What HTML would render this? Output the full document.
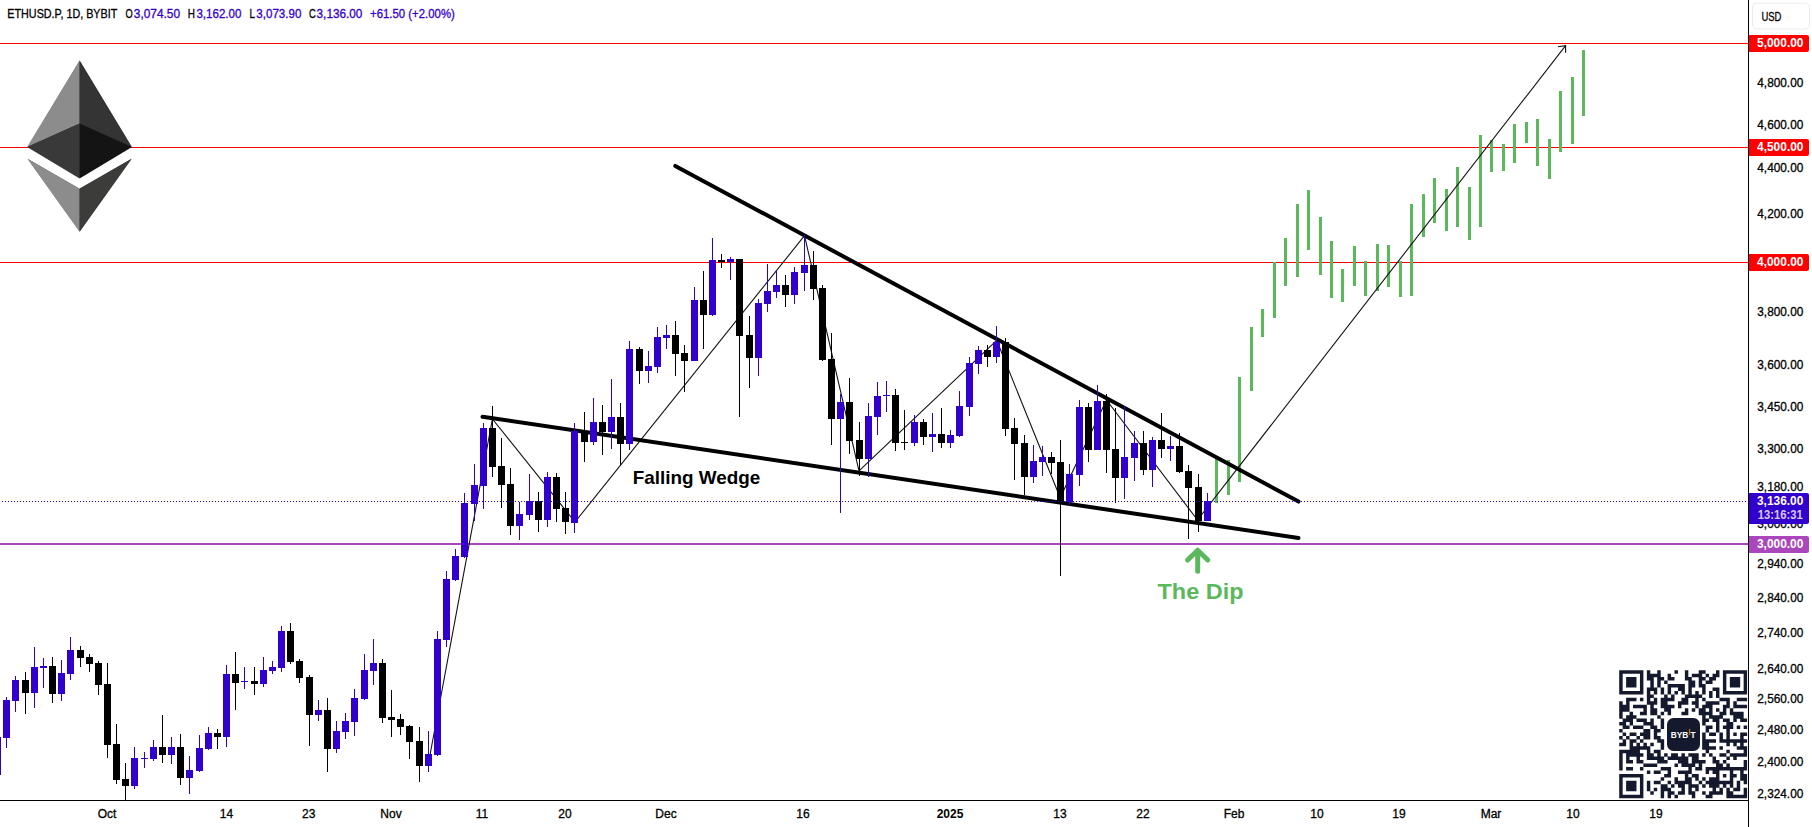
<!DOCTYPE html>
<html lang="en"><head><meta charset="utf-8"><title>ETHUSD.P 1D BYBIT - Falling Wedge</title>
<style>html,body{margin:0;padding:0;background:#fff;overflow:hidden}svg{display:block}text{font-family:"Liberation Sans",sans-serif}</style></head><body>
<svg width="1812" height="827" viewBox="0 0 1812 827">
<rect width="1812" height="827" fill="#fff"/>
<g shape-rendering="crispEdges">
<rect x="0" y="43" width="1748" height="1" fill="#ff0000"/>
<rect x="0" y="147" width="1748" height="1" fill="#ff0000"/>
<rect x="0" y="262" width="1748" height="1" fill="#ff0000"/>
<rect x="0" y="543" width="1748" height="2" fill="#ab47bc"/>
</g>
<g fill="#5cb85c" shape-rendering="crispEdges">
<rect x="1215" y="457" width="3" height="46"/>
<rect x="1227" y="460" width="3" height="35"/>
<rect x="1238" y="377" width="3" height="105"/>
<rect x="1250" y="327" width="3" height="64"/>
<rect x="1261" y="309" width="3" height="28"/>
<rect x="1273" y="262" width="3" height="56"/>
<rect x="1284" y="238" width="3" height="48"/>
<rect x="1296" y="204" width="3" height="73"/>
<rect x="1307" y="190" width="3" height="60"/>
<rect x="1319" y="217" width="3" height="58"/>
<rect x="1330" y="241" width="3" height="57"/>
<rect x="1341" y="269" width="3" height="33"/>
<rect x="1353" y="246" width="3" height="40"/>
<rect x="1364" y="261" width="3" height="35"/>
<rect x="1376" y="244" width="3" height="47"/>
<rect x="1387" y="245" width="3" height="42"/>
<rect x="1399" y="261" width="3" height="36"/>
<rect x="1410" y="204" width="3" height="92"/>
<rect x="1422" y="194" width="3" height="43"/>
<rect x="1433" y="178" width="3" height="45"/>
<rect x="1445" y="189" width="3" height="42"/>
<rect x="1456" y="167" width="3" height="60"/>
<rect x="1468" y="187" width="3" height="53"/>
<rect x="1479" y="135" width="3" height="92"/>
<rect x="1490" y="140" width="3" height="32"/>
<rect x="1502" y="144" width="3" height="27"/>
<rect x="1513" y="124" width="3" height="39"/>
<rect x="1525" y="122" width="3" height="21"/>
<rect x="1536" y="119" width="3" height="47"/>
<rect x="1548" y="139" width="3" height="40"/>
<rect x="1559" y="91" width="3" height="61"/>
<rect x="1571" y="77" width="3" height="67"/>
<rect x="1582" y="50" width="3" height="66"/>
</g>
<polyline points="430,755 492.4,419 575,522 804.5,235.7 859,470.9 996.7,340.3 1060.2,497.8 1106.5,400 1197.5,520 1565.6,45.7" fill="none" stroke="#111" stroke-width="1.1" stroke-linejoin="round"/>
<polyline points="1558,46.7 1565.6,45.7 1565.6,52.7" fill="none" stroke="#111" stroke-width="1.1"/>
<line x1="675.3" y1="165.9" x2="1298.5" y2="501.6" stroke="#000" stroke-width="4" stroke-linecap="round"/>
<line x1="482.5" y1="416.7" x2="1298.5" y2="538" stroke="#000" stroke-width="4" stroke-linecap="round"/>
<text x="632.8" y="484.3" font-size="18.5" font-weight="bold" fill="#000" textLength="127.5" lengthAdjust="spacingAndGlyphs">Falling Wedge</text>
<text x="1157.5" y="599.3" font-size="21.6" font-weight="bold" fill="#5cb85c" textLength="86" lengthAdjust="spacingAndGlyphs">The Dip</text>
<path d="M1197.7 571.3V551M1187.6 560L1197.7 550.2L1207.8 560" fill="none" stroke="#5cb85c" stroke-width="5" stroke-linecap="round" stroke-linejoin="round"/>
<g shape-rendering="crispEdges">
<rect x="-3" y="737" width="1" height="38" fill="#3200cc"/><rect x="-6" y="737" width="7" height="38" fill="#3200cc"/>
<rect x="6" y="697" width="1" height="51" fill="#3200cc"/><rect x="3" y="700" width="7" height="38" fill="#3200cc"/>
<rect x="15" y="676" width="1" height="36" fill="#3200cc"/><rect x="12" y="680" width="7" height="21" fill="#3200cc"/>
<rect x="25" y="672" width="1" height="42" fill="#000"/><rect x="22" y="680" width="7" height="13" fill="#000"/>
<rect x="34" y="647" width="1" height="61" fill="#3200cc"/><rect x="31" y="667" width="7" height="26" fill="#3200cc"/>
<rect x="43" y="658" width="1" height="30" fill="#3200cc"/><rect x="40" y="666" width="7" height="2" fill="#3200cc"/>
<rect x="52" y="657" width="1" height="46" fill="#000"/><rect x="49" y="666" width="7" height="28" fill="#000"/>
<rect x="61" y="660" width="1" height="41" fill="#3200cc"/><rect x="58" y="673" width="7" height="21" fill="#3200cc"/>
<rect x="70" y="637" width="1" height="43" fill="#3200cc"/><rect x="67" y="650" width="7" height="24" fill="#3200cc"/>
<rect x="80" y="646" width="1" height="21" fill="#000"/><rect x="77" y="650" width="7" height="8" fill="#000"/>
<rect x="89" y="654" width="1" height="18" fill="#000"/><rect x="86" y="657" width="7" height="7" fill="#000"/>
<rect x="98" y="661" width="1" height="34" fill="#000"/><rect x="95" y="663" width="7" height="22" fill="#000"/>
<rect x="107" y="663" width="1" height="95" fill="#000"/><rect x="104" y="684" width="7" height="61" fill="#000"/>
<rect x="116" y="724" width="1" height="60" fill="#000"/><rect x="113" y="744" width="7" height="36" fill="#000"/>
<rect x="125" y="763" width="1" height="38" fill="#000"/><rect x="122" y="779" width="7" height="7" fill="#000"/>
<rect x="134" y="747" width="1" height="42" fill="#3200cc"/><rect x="131" y="758" width="7" height="28" fill="#3200cc"/>
<rect x="144" y="752" width="1" height="16" fill="#3200cc"/><rect x="141" y="758" width="7" height="1" fill="#3200cc"/>
<rect x="153" y="740" width="1" height="21" fill="#3200cc"/><rect x="150" y="747" width="7" height="12" fill="#3200cc"/>
<rect x="162" y="715" width="1" height="48" fill="#000"/><rect x="159" y="747" width="7" height="8" fill="#000"/>
<rect x="171" y="737" width="1" height="27" fill="#3200cc"/><rect x="168" y="747" width="7" height="8" fill="#3200cc"/>
<rect x="180" y="734" width="1" height="51" fill="#000"/><rect x="177" y="747" width="7" height="31" fill="#000"/>
<rect x="189" y="756" width="1" height="38" fill="#3200cc"/><rect x="186" y="770" width="7" height="8" fill="#3200cc"/>
<rect x="199" y="735" width="1" height="37" fill="#3200cc"/><rect x="196" y="748" width="7" height="23" fill="#3200cc"/>
<rect x="208" y="727" width="1" height="23" fill="#3200cc"/><rect x="205" y="733" width="7" height="16" fill="#3200cc"/>
<rect x="217" y="729" width="1" height="20" fill="#000"/><rect x="214" y="733" width="7" height="4" fill="#000"/>
<rect x="226" y="665" width="1" height="82" fill="#3200cc"/><rect x="223" y="674" width="7" height="63" fill="#3200cc"/>
<rect x="235" y="652" width="1" height="58" fill="#000"/><rect x="232" y="674" width="7" height="9" fill="#000"/>
<rect x="244" y="667" width="1" height="22" fill="#3200cc"/><rect x="241" y="681" width="7" height="1" fill="#3200cc"/>
<rect x="254" y="667" width="1" height="28" fill="#000"/><rect x="251" y="681" width="7" height="3" fill="#000"/>
<rect x="263" y="657" width="1" height="30" fill="#3200cc"/><rect x="260" y="670" width="7" height="14" fill="#3200cc"/>
<rect x="272" y="661" width="1" height="13" fill="#3200cc"/><rect x="269" y="667" width="7" height="4" fill="#3200cc"/>
<rect x="281" y="626" width="1" height="46" fill="#3200cc"/><rect x="278" y="631" width="7" height="37" fill="#3200cc"/>
<rect x="290" y="623" width="1" height="41" fill="#000"/><rect x="287" y="631" width="7" height="31" fill="#000"/>
<rect x="299" y="659" width="1" height="24" fill="#000"/><rect x="296" y="661" width="7" height="17" fill="#000"/>
<rect x="309" y="675" width="1" height="71" fill="#000"/><rect x="306" y="677" width="7" height="38" fill="#000"/>
<rect x="318" y="700" width="1" height="21" fill="#3200cc"/><rect x="315" y="710" width="7" height="5" fill="#3200cc"/>
<rect x="327" y="698" width="1" height="74" fill="#000"/><rect x="324" y="710" width="7" height="39" fill="#000"/>
<rect x="336" y="721" width="1" height="32" fill="#3200cc"/><rect x="333" y="731" width="7" height="18" fill="#3200cc"/>
<rect x="345" y="713" width="1" height="26" fill="#3200cc"/><rect x="342" y="721" width="7" height="11" fill="#3200cc"/>
<rect x="354" y="689" width="1" height="47" fill="#3200cc"/><rect x="351" y="698" width="7" height="24" fill="#3200cc"/>
<rect x="364" y="654" width="1" height="46" fill="#3200cc"/><rect x="361" y="670" width="7" height="29" fill="#3200cc"/>
<rect x="373" y="639" width="1" height="46" fill="#3200cc"/><rect x="370" y="663" width="7" height="8" fill="#3200cc"/>
<rect x="382" y="659" width="1" height="64" fill="#000"/><rect x="379" y="663" width="7" height="55" fill="#000"/>
<rect x="391" y="690" width="1" height="47" fill="#000"/><rect x="388" y="717" width="7" height="3" fill="#000"/>
<rect x="400" y="714" width="1" height="21" fill="#000"/><rect x="397" y="719" width="7" height="8" fill="#000"/>
<rect x="409" y="725" width="1" height="34" fill="#000"/><rect x="406" y="726" width="7" height="16" fill="#000"/>
<rect x="419" y="727" width="1" height="55" fill="#000"/><rect x="416" y="741" width="7" height="25" fill="#000"/>
<rect x="428" y="731" width="1" height="41" fill="#3200cc"/><rect x="425" y="754" width="7" height="12" fill="#3200cc"/>
<rect x="437" y="631" width="1" height="125" fill="#3200cc"/><rect x="434" y="639" width="7" height="116" fill="#3200cc"/>
<rect x="446" y="571" width="1" height="76" fill="#3200cc"/><rect x="443" y="579" width="7" height="61" fill="#3200cc"/>
<rect x="455" y="549" width="1" height="32" fill="#3200cc"/><rect x="452" y="556" width="7" height="24" fill="#3200cc"/>
<rect x="464" y="493" width="1" height="65" fill="#3200cc"/><rect x="461" y="503" width="7" height="54" fill="#3200cc"/>
<rect x="474" y="464" width="1" height="57" fill="#3200cc"/><rect x="471" y="485" width="7" height="19" fill="#3200cc"/>
<rect x="483" y="423" width="1" height="86" fill="#3200cc"/><rect x="480" y="428" width="7" height="58" fill="#3200cc"/>
<rect x="492" y="406" width="1" height="71" fill="#000"/><rect x="489" y="428" width="7" height="39" fill="#000"/>
<rect x="501" y="438" width="1" height="70" fill="#000"/><rect x="498" y="466" width="7" height="19" fill="#000"/>
<rect x="510" y="468" width="1" height="67" fill="#000"/><rect x="507" y="484" width="7" height="42" fill="#000"/>
<rect x="519" y="502" width="1" height="38" fill="#3200cc"/><rect x="516" y="514" width="7" height="12" fill="#3200cc"/>
<rect x="529" y="474" width="1" height="46" fill="#3200cc"/><rect x="526" y="501" width="7" height="14" fill="#3200cc"/>
<rect x="538" y="492" width="1" height="40" fill="#000"/><rect x="535" y="501" width="7" height="19" fill="#000"/>
<rect x="547" y="472" width="1" height="55" fill="#3200cc"/><rect x="544" y="477" width="7" height="43" fill="#3200cc"/>
<rect x="556" y="473" width="1" height="49" fill="#000"/><rect x="553" y="477" width="7" height="32" fill="#000"/>
<rect x="565" y="492" width="1" height="42" fill="#000"/><rect x="562" y="508" width="7" height="14" fill="#000"/>
<rect x="574" y="423" width="1" height="110" fill="#3200cc"/><rect x="571" y="431" width="7" height="92" fill="#3200cc"/>
<rect x="584" y="412" width="1" height="50" fill="#000"/><rect x="581" y="431" width="7" height="11" fill="#000"/>
<rect x="593" y="398" width="1" height="47" fill="#3200cc"/><rect x="590" y="422" width="7" height="20" fill="#3200cc"/>
<rect x="602" y="405" width="1" height="50" fill="#000"/><rect x="599" y="422" width="7" height="10" fill="#000"/>
<rect x="611" y="379" width="1" height="70" fill="#3200cc"/><rect x="608" y="417" width="7" height="15" fill="#3200cc"/>
<rect x="620" y="403" width="1" height="62" fill="#000"/><rect x="617" y="417" width="7" height="27" fill="#000"/>
<rect x="629" y="341" width="1" height="109" fill="#3200cc"/><rect x="626" y="349" width="7" height="95" fill="#3200cc"/>
<rect x="639" y="347" width="1" height="37" fill="#000"/><rect x="636" y="349" width="7" height="22" fill="#000"/>
<rect x="648" y="351" width="1" height="32" fill="#3200cc"/><rect x="645" y="366" width="7" height="5" fill="#3200cc"/>
<rect x="657" y="327" width="1" height="46" fill="#3200cc"/><rect x="654" y="337" width="7" height="30" fill="#3200cc"/>
<rect x="666" y="325" width="1" height="24" fill="#3200cc"/><rect x="663" y="335" width="7" height="3" fill="#3200cc"/>
<rect x="675" y="321" width="1" height="55" fill="#000"/><rect x="672" y="335" width="7" height="19" fill="#000"/>
<rect x="684" y="345" width="1" height="47" fill="#000"/><rect x="681" y="353" width="7" height="8" fill="#000"/>
<rect x="694" y="287" width="1" height="74" fill="#3200cc"/><rect x="691" y="300" width="7" height="61" fill="#3200cc"/>
<rect x="703" y="271" width="1" height="78" fill="#000"/><rect x="700" y="300" width="7" height="15" fill="#000"/>
<rect x="712" y="238" width="1" height="78" fill="#3200cc"/><rect x="709" y="260" width="7" height="55" fill="#3200cc"/>
<rect x="721" y="254" width="1" height="14" fill="#000"/><rect x="718" y="260" width="7" height="2" fill="#000"/>
<rect x="730" y="257" width="1" height="23" fill="#3200cc"/><rect x="727" y="259" width="7" height="3" fill="#3200cc"/>
<rect x="739" y="259" width="1" height="158" fill="#000"/><rect x="736" y="259" width="7" height="77" fill="#000"/>
<rect x="749" y="316" width="1" height="72" fill="#000"/><rect x="746" y="335" width="7" height="23" fill="#000"/>
<rect x="758" y="299" width="1" height="77" fill="#3200cc"/><rect x="755" y="303" width="7" height="55" fill="#3200cc"/>
<rect x="767" y="264" width="1" height="48" fill="#3200cc"/><rect x="764" y="291" width="7" height="13" fill="#3200cc"/>
<rect x="776" y="270" width="1" height="28" fill="#3200cc"/><rect x="773" y="285" width="7" height="7" fill="#3200cc"/>
<rect x="785" y="275" width="1" height="32" fill="#000"/><rect x="782" y="285" width="7" height="10" fill="#000"/>
<rect x="794" y="267" width="1" height="37" fill="#3200cc"/><rect x="791" y="272" width="7" height="23" fill="#3200cc"/>
<rect x="804" y="235" width="1" height="56" fill="#3200cc"/><rect x="801" y="265" width="7" height="8" fill="#3200cc"/>
<rect x="813" y="251" width="1" height="49" fill="#000"/><rect x="810" y="265" width="7" height="24" fill="#000"/>
<rect x="822" y="285" width="1" height="76" fill="#000"/><rect x="819" y="288" width="7" height="72" fill="#000"/>
<rect x="831" y="333" width="1" height="112" fill="#000"/><rect x="828" y="359" width="7" height="60" fill="#000"/>
<rect x="840" y="394" width="1" height="119" fill="#3200cc"/><rect x="837" y="402" width="7" height="17" fill="#3200cc"/>
<rect x="849" y="378" width="1" height="76" fill="#000"/><rect x="846" y="402" width="7" height="39" fill="#000"/>
<rect x="859" y="422" width="1" height="54" fill="#000"/><rect x="856" y="440" width="7" height="19" fill="#000"/>
<rect x="868" y="403" width="1" height="74" fill="#3200cc"/><rect x="865" y="416" width="7" height="43" fill="#3200cc"/>
<rect x="877" y="382" width="1" height="53" fill="#3200cc"/><rect x="874" y="396" width="7" height="21" fill="#3200cc"/>
<rect x="886" y="381" width="1" height="31" fill="#3200cc"/><rect x="883" y="395" width="7" height="1" fill="#3200cc"/>
<rect x="895" y="389" width="1" height="62" fill="#000"/><rect x="892" y="395" width="7" height="48" fill="#000"/>
<rect x="904" y="410" width="1" height="40" fill="#000"/><rect x="901" y="442" width="7" height="1" fill="#000"/>
<rect x="914" y="415" width="1" height="31" fill="#3200cc"/><rect x="911" y="422" width="7" height="21" fill="#3200cc"/>
<rect x="923" y="419" width="1" height="26" fill="#000"/><rect x="920" y="422" width="7" height="15" fill="#000"/>
<rect x="932" y="413" width="1" height="39" fill="#3200cc"/><rect x="929" y="434" width="7" height="3" fill="#3200cc"/>
<rect x="941" y="408" width="1" height="40" fill="#000"/><rect x="938" y="434" width="7" height="9" fill="#000"/>
<rect x="950" y="430" width="1" height="18" fill="#3200cc"/><rect x="947" y="435" width="7" height="8" fill="#3200cc"/>
<rect x="959" y="391" width="1" height="46" fill="#3200cc"/><rect x="956" y="406" width="7" height="30" fill="#3200cc"/>
<rect x="969" y="357" width="1" height="59" fill="#3200cc"/><rect x="966" y="363" width="7" height="44" fill="#3200cc"/>
<rect x="978" y="346" width="1" height="28" fill="#3200cc"/><rect x="975" y="350" width="7" height="14" fill="#3200cc"/>
<rect x="987" y="345" width="1" height="22" fill="#000"/><rect x="984" y="350" width="7" height="7" fill="#000"/>
<rect x="996" y="326" width="1" height="37" fill="#3200cc"/><rect x="993" y="342" width="7" height="15" fill="#3200cc"/>
<rect x="1005" y="338" width="1" height="98" fill="#000"/><rect x="1002" y="342" width="7" height="87" fill="#000"/>
<rect x="1014" y="418" width="1" height="62" fill="#000"/><rect x="1011" y="428" width="7" height="16" fill="#000"/>
<rect x="1024" y="435" width="1" height="60" fill="#000"/><rect x="1021" y="443" width="7" height="34" fill="#000"/>
<rect x="1033" y="445" width="1" height="38" fill="#3200cc"/><rect x="1030" y="461" width="7" height="16" fill="#3200cc"/>
<rect x="1042" y="446" width="1" height="30" fill="#3200cc"/><rect x="1039" y="457" width="7" height="5" fill="#3200cc"/>
<rect x="1051" y="452" width="1" height="22" fill="#000"/><rect x="1048" y="457" width="7" height="6" fill="#000"/>
<rect x="1060" y="440" width="1" height="136" fill="#000"/><rect x="1057" y="462" width="7" height="40" fill="#000"/>
<rect x="1069" y="464" width="1" height="41" fill="#3200cc"/><rect x="1066" y="474" width="7" height="28" fill="#3200cc"/>
<rect x="1079" y="400" width="1" height="86" fill="#3200cc"/><rect x="1076" y="407" width="7" height="68" fill="#3200cc"/>
<rect x="1088" y="403" width="1" height="59" fill="#000"/><rect x="1085" y="407" width="7" height="43" fill="#000"/>
<rect x="1097" y="385" width="1" height="65" fill="#3200cc"/><rect x="1094" y="401" width="7" height="49" fill="#3200cc"/>
<rect x="1106" y="394" width="1" height="79" fill="#000"/><rect x="1103" y="401" width="7" height="49" fill="#000"/>
<rect x="1115" y="408" width="1" height="95" fill="#000"/><rect x="1112" y="449" width="7" height="29" fill="#000"/>
<rect x="1124" y="406" width="1" height="93" fill="#3200cc"/><rect x="1121" y="457" width="7" height="21" fill="#3200cc"/>
<rect x="1134" y="431" width="1" height="50" fill="#3200cc"/><rect x="1131" y="443" width="7" height="15" fill="#3200cc"/>
<rect x="1143" y="431" width="1" height="44" fill="#000"/><rect x="1140" y="443" width="7" height="27" fill="#000"/>
<rect x="1152" y="437" width="1" height="50" fill="#3200cc"/><rect x="1149" y="440" width="7" height="30" fill="#3200cc"/>
<rect x="1161" y="413" width="1" height="45" fill="#000"/><rect x="1158" y="440" width="7" height="9" fill="#000"/>
<rect x="1170" y="436" width="1" height="25" fill="#3200cc"/><rect x="1167" y="446" width="7" height="3" fill="#3200cc"/>
<rect x="1179" y="433" width="1" height="40" fill="#000"/><rect x="1176" y="446" width="7" height="26" fill="#000"/>
<rect x="1188" y="465" width="1" height="74" fill="#000"/><rect x="1185" y="471" width="7" height="17" fill="#000"/>
<rect x="1198" y="474" width="1" height="58" fill="#000"/><rect x="1195" y="487" width="7" height="34" fill="#000"/>
<rect x="1207" y="493" width="1" height="28" fill="#3200cc"/><rect x="1204" y="501" width="7" height="20" fill="#3200cc"/>
</g>
<line x1="1.5" y1="501.5" x2="1747" y2="501.5" stroke="#3200cc" stroke-width="1" stroke-dasharray="1 2" shape-rendering="crispEdges"/>
<g>
<polygon points="79.6,61 28,146.8 79.6,178 131.2,146.8" fill="#343434"/>
<polygon points="28,159 79.6,188.9 131.2,159 79.6,231" fill="#3c3c3b"/>
<polygon points="79.6,60.3 27.1,147 79.6,123.6" fill="#8c8c8c"/>
<polygon points="79.6,60.3 132,147 79.6,123.6" fill="#343434"/>
<polygon points="27.1,147 79.6,123.6 79.6,178.5" fill="#393939"/>
<polygon points="132,147 79.6,123.6 79.6,178.5" fill="#141414"/>
<polygon points="27.1,158.5 79.6,188.6 79.6,232" fill="#8c8c8c"/>
<polygon points="132,158.5 79.6,188.6 79.6,232" fill="#3c3c3b"/>
</g>
<text x="7.3" y="17.9" font-size="12" fill="#000" stroke="#000" stroke-width="0.3" textLength="110" lengthAdjust="spacingAndGlyphs">ETHUSD.P, 1D, BYBIT</text>
<text x="125.6" y="17.9" font-size="12" fill="#000" stroke="#000" stroke-width="0.3" textLength="7.2" lengthAdjust="spacingAndGlyphs">O</text>
<text x="133.8" y="17.9" font-size="12" fill="#3200cc" stroke="#3200cc" stroke-width="0.3" textLength="46.2" lengthAdjust="spacingAndGlyphs">3,074.50</text>
<text x="187.8" y="17.9" font-size="12" fill="#000" stroke="#000" stroke-width="0.3" textLength="7.2" lengthAdjust="spacingAndGlyphs">H</text>
<text x="196.4" y="17.9" font-size="12" fill="#3200cc" stroke="#3200cc" stroke-width="0.3" textLength="45" lengthAdjust="spacingAndGlyphs">3,162.00</text>
<text x="249.6" y="17.9" font-size="12" fill="#000" stroke="#000" stroke-width="0.3" textLength="5.5" lengthAdjust="spacingAndGlyphs">L</text>
<text x="256.3" y="17.9" font-size="12" fill="#3200cc" stroke="#3200cc" stroke-width="0.3" textLength="45.1" lengthAdjust="spacingAndGlyphs">3,073.90</text>
<text x="309" y="17.9" font-size="12" fill="#000" stroke="#000" stroke-width="0.3" textLength="6.8" lengthAdjust="spacingAndGlyphs">C</text>
<text x="316.6" y="17.9" font-size="12" fill="#3200cc" stroke="#3200cc" stroke-width="0.3" textLength="45.7" lengthAdjust="spacingAndGlyphs">3,136.00</text>
<text x="370" y="17.9" font-size="12" fill="#3200cc" stroke="#3200cc" stroke-width="0.3" textLength="84.8" lengthAdjust="spacingAndGlyphs">+61.50 (+2.00%)</text>
<g shape-rendering="crispEdges"><rect x="1748" y="0" width="1" height="827" fill="#000"/><rect x="0" y="800" width="1748" height="1" fill="#000"/></g>
<rect x="1752.5" y="3.2" width="57" height="25.8" rx="4" fill="#fff" stroke="#ebebeb" stroke-width="1"/>
<text x="1761.4" y="21.1" font-size="12" fill="#000" stroke="#000" stroke-width="0.3" textLength="20" lengthAdjust="spacingAndGlyphs">USD</text>
<text x="1757.3" y="86.5" font-size="12" fill="#000" stroke="#000" stroke-width="0.3" textLength="46" lengthAdjust="spacingAndGlyphs">4,800.00</text>
<text x="1757.3" y="128.8" font-size="12" fill="#000" stroke="#000" stroke-width="0.3" textLength="46" lengthAdjust="spacingAndGlyphs">4,600.00</text>
<text x="1757.3" y="171.8" font-size="12" fill="#000" stroke="#000" stroke-width="0.3" textLength="46" lengthAdjust="spacingAndGlyphs">4,400.00</text>
<text x="1757.3" y="217.9" font-size="12" fill="#000" stroke="#000" stroke-width="0.3" textLength="46" lengthAdjust="spacingAndGlyphs">4,200.00</text>
<text x="1757.3" y="315.9" font-size="12" fill="#000" stroke="#000" stroke-width="0.3" textLength="46" lengthAdjust="spacingAndGlyphs">3,800.00</text>
<text x="1757.3" y="368.7" font-size="12" fill="#000" stroke="#000" stroke-width="0.3" textLength="46" lengthAdjust="spacingAndGlyphs">3,600.00</text>
<text x="1757.3" y="411.0" font-size="12" fill="#000" stroke="#000" stroke-width="0.3" textLength="46" lengthAdjust="spacingAndGlyphs">3,450.00</text>
<text x="1757.3" y="453.3" font-size="12" fill="#000" stroke="#000" stroke-width="0.3" textLength="46" lengthAdjust="spacingAndGlyphs">3,300.00</text>
<text x="1757.3" y="490.6" font-size="12" fill="#000" stroke="#000" stroke-width="0.3" textLength="46" lengthAdjust="spacingAndGlyphs">3,180.00</text>
<text x="1757.3" y="528.4" font-size="12" fill="#000" stroke="#000" stroke-width="0.3" textLength="46" lengthAdjust="spacingAndGlyphs">3,000.00</text>
<text x="1757.3" y="567.8" font-size="12" fill="#000" stroke="#000" stroke-width="0.3" textLength="46" lengthAdjust="spacingAndGlyphs">2,940.00</text>
<text x="1757.3" y="601.5" font-size="12" fill="#000" stroke="#000" stroke-width="0.3" textLength="46" lengthAdjust="spacingAndGlyphs">2,840.00</text>
<text x="1757.3" y="636.9" font-size="12" fill="#000" stroke="#000" stroke-width="0.3" textLength="46" lengthAdjust="spacingAndGlyphs">2,740.00</text>
<text x="1757.3" y="673.0" font-size="12" fill="#000" stroke="#000" stroke-width="0.3" textLength="46" lengthAdjust="spacingAndGlyphs">2,640.00</text>
<text x="1757.3" y="702.9" font-size="12" fill="#000" stroke="#000" stroke-width="0.3" textLength="46" lengthAdjust="spacingAndGlyphs">2,560.00</text>
<text x="1757.3" y="734.1" font-size="12" fill="#000" stroke="#000" stroke-width="0.3" textLength="46" lengthAdjust="spacingAndGlyphs">2,480.00</text>
<text x="1757.3" y="766.4" font-size="12" fill="#000" stroke="#000" stroke-width="0.3" textLength="46" lengthAdjust="spacingAndGlyphs">2,400.00</text>
<text x="1757.3" y="798.0" font-size="12" fill="#000" stroke="#000" stroke-width="0.3" textLength="46" lengthAdjust="spacingAndGlyphs">2,324.00</text>
<path d="M1749 35H1807a2 2 0 0 1 2 2V50a2 2 0 0 1 -2 2H1749Z" fill="#ff0000"/>
<text x="1757" y="47.0" font-size="12" fill="#fff" font-weight="bold" textLength="46.5" lengthAdjust="spacingAndGlyphs">5,000.00</text>
<path d="M1749 139H1807a2 2 0 0 1 2 2V154a2 2 0 0 1 -2 2H1749Z" fill="#ff0000"/>
<text x="1757" y="151.0" font-size="12" fill="#fff" font-weight="bold" textLength="46.5" lengthAdjust="spacingAndGlyphs">4,500.00</text>
<path d="M1749 254H1807a2 2 0 0 1 2 2V269a2 2 0 0 1 -2 2H1749Z" fill="#ff0000"/>
<text x="1757" y="266.0" font-size="12" fill="#fff" font-weight="bold" textLength="46.5" lengthAdjust="spacingAndGlyphs">4,000.00</text>
<path d="M1749 493H1807a2 2 0 0 1 2 2V522a2 2 0 0 1 -2 2H1749Z" fill="#3200cc"/>
<text x="1757" y="504.8" font-size="12" fill="#fff" font-weight="bold" textLength="46.3" lengthAdjust="spacingAndGlyphs">3,136.00</text>
<text x="1757.7" y="518.7" font-size="12" fill="#fff" font-weight="bold" fill-opacity="0.8" textLength="45" lengthAdjust="spacingAndGlyphs">13:16:31</text>
<path d="M1749 536H1807a2 2 0 0 1 2 2V551a2 2 0 0 1 -2 2H1749Z" fill="#ab47bc"/>
<text x="1757" y="548" font-size="12" fill="#fff" font-weight="bold" textLength="46.3" lengthAdjust="spacingAndGlyphs">3,000.00</text>
<text x="107" y="817.8" font-size="12" fill="#000" stroke="#000" stroke-width="0.3" text-anchor="middle">Oct</text>
<text x="226.5" y="817.8" font-size="12" fill="#000" stroke="#000" stroke-width="0.3" text-anchor="middle">14</text>
<text x="308.7" y="817.8" font-size="12" fill="#000" stroke="#000" stroke-width="0.3" text-anchor="middle">23</text>
<text x="391" y="817.8" font-size="12" fill="#000" stroke="#000" stroke-width="0.3" text-anchor="middle">Nov</text>
<text x="482" y="817.8" font-size="12" fill="#000" stroke="#000" stroke-width="0.3" text-anchor="middle">11</text>
<text x="565" y="817.8" font-size="12" fill="#000" stroke="#000" stroke-width="0.3" text-anchor="middle">20</text>
<text x="666" y="817.8" font-size="12" fill="#000" stroke="#000" stroke-width="0.3" text-anchor="middle">Dec</text>
<text x="803" y="817.8" font-size="12" fill="#000" stroke="#000" stroke-width="0.3" text-anchor="middle">16</text>
<text x="950" y="817.8" font-size="12" fill="#000" font-weight="bold" text-anchor="middle">2025</text>
<text x="1060" y="817.8" font-size="12" fill="#000" stroke="#000" stroke-width="0.3" text-anchor="middle">13</text>
<text x="1143" y="817.8" font-size="12" fill="#000" stroke="#000" stroke-width="0.3" text-anchor="middle">22</text>
<text x="1234" y="817.8" font-size="12" fill="#000" stroke="#000" stroke-width="0.3" text-anchor="middle">Feb</text>
<text x="1317" y="817.8" font-size="12" fill="#000" stroke="#000" stroke-width="0.3" text-anchor="middle">10</text>
<text x="1399" y="817.8" font-size="12" fill="#000" stroke="#000" stroke-width="0.3" text-anchor="middle">19</text>
<text x="1491" y="817.8" font-size="12" fill="#000" stroke="#000" stroke-width="0.3" text-anchor="middle">Mar</text>
<text x="1573" y="817.8" font-size="12" fill="#000" stroke="#000" stroke-width="0.3" text-anchor="middle">10</text>
<text x="1656" y="817.8" font-size="12" fill="#000" stroke="#000" stroke-width="0.3" text-anchor="middle">19</text>
<g id="qr"><path d="M1619.20 670.20h24.20v3.50h-24.20zM1646.86 670.20h3.46v3.50h-3.46zM1657.23 670.20h3.46v3.50h-3.46zM1674.51 670.20h3.46v3.50h-3.46zM1684.88 670.20h3.46v3.50h-3.46zM1698.71 670.20h6.91v3.50h-6.91zM1716.00 670.20h3.46v3.50h-3.46zM1722.91 670.20h24.20v3.50h-24.20zM1619.20 673.66h3.46v3.50h-3.46zM1639.94 673.66h3.46v3.50h-3.46zM1646.86 673.66h13.83v3.50h-13.83zM1667.60 673.66h3.46v3.50h-3.46zM1684.88 673.66h3.46v3.50h-3.46zM1691.80 673.66h10.37v3.50h-10.37zM1705.62 673.66h3.46v3.50h-3.46zM1712.54 673.66h6.91v3.50h-6.91zM1722.91 673.66h3.46v3.50h-3.46zM1743.65 673.66h3.46v3.50h-3.46zM1619.20 677.11h3.46v3.50h-3.46zM1626.11 677.11h10.37v3.50h-10.37zM1639.94 677.11h3.46v3.50h-3.46zM1646.86 677.11h6.91v3.50h-6.91zM1657.23 677.11h6.91v3.50h-6.91zM1667.60 677.11h6.91v3.50h-6.91zM1684.88 677.11h6.91v3.50h-6.91zM1698.71 677.11h6.91v3.50h-6.91zM1709.08 677.11h6.91v3.50h-6.91zM1722.91 677.11h3.46v3.50h-3.46zM1729.82 677.11h10.37v3.50h-10.37zM1743.65 677.11h3.46v3.50h-3.46zM1619.20 680.57h3.46v3.50h-3.46zM1626.11 680.57h10.37v3.50h-10.37zM1639.94 680.57h3.46v3.50h-3.46zM1650.31 680.57h3.46v3.50h-3.46zM1657.23 680.57h3.46v3.50h-3.46zM1664.14 680.57h3.46v3.50h-3.46zM1688.34 680.57h6.91v3.50h-6.91zM1698.71 680.57h3.46v3.50h-3.46zM1705.62 680.57h6.91v3.50h-6.91zM1722.91 680.57h3.46v3.50h-3.46zM1729.82 680.57h10.37v3.50h-10.37zM1743.65 680.57h3.46v3.50h-3.46zM1619.20 684.03h3.46v3.50h-3.46zM1626.11 684.03h10.37v3.50h-10.37zM1639.94 684.03h3.46v3.50h-3.46zM1650.31 684.03h3.46v3.50h-3.46zM1657.23 684.03h3.46v3.50h-3.46zM1667.60 684.03h17.29v3.50h-17.29zM1688.34 684.03h6.91v3.50h-6.91zM1698.71 684.03h6.91v3.50h-6.91zM1722.91 684.03h3.46v3.50h-3.46zM1729.82 684.03h10.37v3.50h-10.37zM1743.65 684.03h3.46v3.50h-3.46zM1619.20 687.49h3.46v3.50h-3.46zM1639.94 687.49h3.46v3.50h-3.46zM1646.86 687.49h10.37v3.50h-10.37zM1660.68 687.49h3.46v3.50h-3.46zM1667.60 687.49h3.46v3.50h-3.46zM1677.97 687.49h6.91v3.50h-6.91zM1688.34 687.49h3.46v3.50h-3.46zM1702.17 687.49h3.46v3.50h-3.46zM1712.54 687.49h6.91v3.50h-6.91zM1722.91 687.49h3.46v3.50h-3.46zM1743.65 687.49h3.46v3.50h-3.46zM1619.20 690.94h24.20v3.50h-24.20zM1646.86 690.94h3.46v3.50h-3.46zM1653.77 690.94h3.46v3.50h-3.46zM1660.68 690.94h3.46v3.50h-3.46zM1667.60 690.94h3.46v3.50h-3.46zM1674.51 690.94h3.46v3.50h-3.46zM1681.43 690.94h3.46v3.50h-3.46zM1688.34 690.94h3.46v3.50h-3.46zM1695.25 690.94h3.46v3.50h-3.46zM1702.17 690.94h3.46v3.50h-3.46zM1709.08 690.94h3.46v3.50h-3.46zM1716.00 690.94h3.46v3.50h-3.46zM1722.91 690.94h24.20v3.50h-24.20zM1646.86 694.40h6.91v3.50h-6.91zM1664.14 694.40h3.46v3.50h-3.46zM1671.06 694.40h3.46v3.50h-3.46zM1684.88 694.40h17.29v3.50h-17.29zM1709.08 694.40h3.46v3.50h-3.46zM1716.00 694.40h3.46v3.50h-3.46zM1626.11 697.86h10.37v3.50h-10.37zM1639.94 697.86h3.46v3.50h-3.46zM1646.86 697.86h3.46v3.50h-3.46zM1653.77 697.86h3.46v3.50h-3.46zM1660.68 697.86h13.83v3.50h-13.83zM1681.43 697.86h6.91v3.50h-6.91zM1695.25 697.86h3.46v3.50h-3.46zM1702.17 697.86h3.46v3.50h-3.46zM1719.45 697.86h10.37v3.50h-10.37zM1736.74 697.86h10.37v3.50h-10.37zM1619.20 701.31h3.46v3.50h-3.46zM1626.11 701.31h3.46v3.50h-3.46zM1646.86 701.31h10.37v3.50h-10.37zM1660.68 701.31h6.91v3.50h-6.91zM1677.97 701.31h10.37v3.50h-10.37zM1691.80 701.31h6.91v3.50h-6.91zM1705.62 701.31h13.83v3.50h-13.83zM1726.37 701.31h3.46v3.50h-3.46zM1733.28 701.31h3.46v3.50h-3.46zM1619.20 704.77h10.37v3.50h-10.37zM1633.03 704.77h13.83v3.50h-13.83zM1650.31 704.77h3.46v3.50h-3.46zM1660.68 704.77h13.83v3.50h-13.83zM1677.97 704.77h3.46v3.50h-3.46zM1695.25 704.77h3.46v3.50h-3.46zM1702.17 704.77h10.37v3.50h-10.37zM1722.91 704.77h6.91v3.50h-6.91zM1733.28 704.77h13.83v3.50h-13.83zM1619.20 708.23h10.37v3.50h-10.37zM1643.40 708.23h3.46v3.50h-3.46zM1650.31 708.23h6.91v3.50h-6.91zM1664.14 708.23h6.91v3.50h-6.91zM1684.88 708.23h3.46v3.50h-3.46zM1691.80 708.23h3.46v3.50h-3.46zM1698.71 708.23h6.91v3.50h-6.91zM1709.08 708.23h3.46v3.50h-3.46zM1716.00 708.23h3.46v3.50h-3.46zM1722.91 708.23h3.46v3.50h-3.46zM1729.82 708.23h3.46v3.50h-3.46zM1619.20 711.68h3.46v3.50h-3.46zM1629.57 711.68h3.46v3.50h-3.46zM1639.94 711.68h6.91v3.50h-6.91zM1650.31 711.68h6.91v3.50h-6.91zM1660.68 711.68h3.46v3.50h-3.46zM1667.60 711.68h3.46v3.50h-3.46zM1681.43 711.68h6.91v3.50h-6.91zM1698.71 711.68h13.83v3.50h-13.83zM1719.45 711.68h6.91v3.50h-6.91zM1729.82 711.68h13.83v3.50h-13.83zM1619.20 715.14h3.46v3.50h-3.46zM1626.11 715.14h10.37v3.50h-10.37zM1657.23 715.14h3.46v3.50h-3.46zM1702.17 715.14h3.46v3.50h-3.46zM1709.08 715.14h13.83v3.50h-13.83zM1733.28 715.14h10.37v3.50h-10.37zM1622.66 718.60h10.37v3.50h-10.37zM1636.49 718.60h10.37v3.50h-10.37zM1650.31 718.60h3.46v3.50h-3.46zM1660.68 718.60h3.46v3.50h-3.46zM1702.17 718.60h6.91v3.50h-6.91zM1712.54 718.60h6.91v3.50h-6.91zM1722.91 718.60h6.91v3.50h-6.91zM1733.28 718.60h3.46v3.50h-3.46zM1740.19 718.60h6.91v3.50h-6.91zM1619.20 722.06h6.91v3.50h-6.91zM1629.57 722.06h3.46v3.50h-3.46zM1643.40 722.06h10.37v3.50h-10.37zM1660.68 722.06h3.46v3.50h-3.46zM1702.17 722.06h3.46v3.50h-3.46zM1716.00 722.06h3.46v3.50h-3.46zM1726.37 722.06h6.91v3.50h-6.91zM1622.66 725.51h6.91v3.50h-6.91zM1633.03 725.51h10.37v3.50h-10.37zM1650.31 725.51h6.91v3.50h-6.91zM1660.68 725.51h3.46v3.50h-3.46zM1705.62 725.51h6.91v3.50h-6.91zM1716.00 725.51h3.46v3.50h-3.46zM1722.91 725.51h10.37v3.50h-10.37zM1736.74 725.51h3.46v3.50h-3.46zM1743.65 725.51h3.46v3.50h-3.46zM1619.20 728.97h3.46v3.50h-3.46zM1643.40 728.97h6.91v3.50h-6.91zM1653.77 728.97h6.91v3.50h-6.91zM1705.62 728.97h3.46v3.50h-3.46zM1716.00 728.97h3.46v3.50h-3.46zM1726.37 728.97h3.46v3.50h-3.46zM1622.66 732.43h3.46v3.50h-3.46zM1629.57 732.43h6.91v3.50h-6.91zM1639.94 732.43h10.37v3.50h-10.37zM1653.77 732.43h3.46v3.50h-3.46zM1702.17 732.43h3.46v3.50h-3.46zM1709.08 732.43h6.91v3.50h-6.91zM1719.45 732.43h3.46v3.50h-3.46zM1726.37 732.43h3.46v3.50h-3.46zM1733.28 732.43h3.46v3.50h-3.46zM1740.19 732.43h6.91v3.50h-6.91zM1619.20 735.88h3.46v3.50h-3.46zM1626.11 735.88h3.46v3.50h-3.46zM1636.49 735.88h3.46v3.50h-3.46zM1643.40 735.88h6.91v3.50h-6.91zM1653.77 735.88h6.91v3.50h-6.91zM1702.17 735.88h3.46v3.50h-3.46zM1719.45 735.88h3.46v3.50h-3.46zM1726.37 735.88h3.46v3.50h-3.46zM1740.19 735.88h3.46v3.50h-3.46zM1622.66 739.34h3.46v3.50h-3.46zM1629.57 739.34h6.91v3.50h-6.91zM1639.94 739.34h3.46v3.50h-3.46zM1657.23 739.34h6.91v3.50h-6.91zM1702.17 739.34h13.83v3.50h-13.83zM1719.45 739.34h27.66v3.50h-27.66zM1619.20 742.80h6.91v3.50h-6.91zM1629.57 742.80h3.46v3.50h-3.46zM1636.49 742.80h3.46v3.50h-3.46zM1643.40 742.80h3.46v3.50h-3.46zM1650.31 742.80h3.46v3.50h-3.46zM1660.68 742.80h3.46v3.50h-3.46zM1702.17 742.80h6.91v3.50h-6.91zM1726.37 742.80h3.46v3.50h-3.46zM1733.28 742.80h3.46v3.50h-3.46zM1740.19 742.80h3.46v3.50h-3.46zM1629.57 746.25h20.74v3.50h-20.74zM1660.68 746.25h3.46v3.50h-3.46zM1702.17 746.25h13.83v3.50h-13.83zM1719.45 746.25h3.46v3.50h-3.46zM1736.74 746.25h10.37v3.50h-10.37zM1619.20 749.71h20.74v3.50h-20.74zM1646.86 749.71h3.46v3.50h-3.46zM1653.77 749.71h6.91v3.50h-6.91zM1705.62 749.71h3.46v3.50h-3.46zM1726.37 749.71h3.46v3.50h-3.46zM1743.65 749.71h3.46v3.50h-3.46zM1619.20 753.17h3.46v3.50h-3.46zM1626.11 753.17h17.29v3.50h-17.29zM1646.86 753.17h6.91v3.50h-6.91zM1657.23 753.17h3.46v3.50h-3.46zM1664.14 753.17h3.46v3.50h-3.46zM1671.06 753.17h6.91v3.50h-6.91zM1681.43 753.17h3.46v3.50h-3.46zM1688.34 753.17h10.37v3.50h-10.37zM1702.17 753.17h3.46v3.50h-3.46zM1709.08 753.17h3.46v3.50h-3.46zM1719.45 753.17h6.91v3.50h-6.91zM1729.82 753.17h17.29v3.50h-17.29zM1619.20 756.62h3.46v3.50h-3.46zM1626.11 756.62h3.46v3.50h-3.46zM1636.49 756.62h3.46v3.50h-3.46zM1646.86 756.62h17.29v3.50h-17.29zM1667.60 756.62h20.74v3.50h-20.74zM1691.80 756.62h6.91v3.50h-6.91zM1712.54 756.62h3.46v3.50h-3.46zM1726.37 756.62h3.46v3.50h-3.46zM1733.28 756.62h3.46v3.50h-3.46zM1619.20 760.08h3.46v3.50h-3.46zM1626.11 760.08h6.91v3.50h-6.91zM1636.49 760.08h6.91v3.50h-6.91zM1657.23 760.08h10.37v3.50h-10.37zM1677.97 760.08h10.37v3.50h-10.37zM1691.80 760.08h13.83v3.50h-13.83zM1712.54 760.08h6.91v3.50h-6.91zM1722.91 760.08h3.46v3.50h-3.46zM1743.65 760.08h3.46v3.50h-3.46zM1619.20 763.54h3.46v3.50h-3.46zM1643.40 763.54h13.83v3.50h-13.83zM1674.51 763.54h3.46v3.50h-3.46zM1681.43 763.54h13.83v3.50h-13.83zM1698.71 763.54h3.46v3.50h-3.46zM1716.00 763.54h6.91v3.50h-6.91zM1726.37 763.54h3.46v3.50h-3.46zM1743.65 763.54h3.46v3.50h-3.46zM1619.20 767.00h3.46v3.50h-3.46zM1626.11 767.00h6.91v3.50h-6.91zM1639.94 767.00h3.46v3.50h-3.46zM1660.68 767.00h10.37v3.50h-10.37zM1688.34 767.00h3.46v3.50h-3.46zM1695.25 767.00h6.91v3.50h-6.91zM1705.62 767.00h41.48v3.50h-41.48zM1646.86 770.45h3.46v3.50h-3.46zM1653.77 770.45h6.91v3.50h-6.91zM1667.60 770.45h3.46v3.50h-3.46zM1677.97 770.45h13.83v3.50h-13.83zM1705.62 770.45h3.46v3.50h-3.46zM1712.54 770.45h6.91v3.50h-6.91zM1729.82 770.45h3.46v3.50h-3.46zM1740.19 770.45h3.46v3.50h-3.46zM1619.20 773.91h24.20v3.50h-24.20zM1664.14 773.91h6.91v3.50h-6.91zM1684.88 773.91h3.46v3.50h-3.46zM1691.80 773.91h6.91v3.50h-6.91zM1716.00 773.91h3.46v3.50h-3.46zM1722.91 773.91h3.46v3.50h-3.46zM1729.82 773.91h6.91v3.50h-6.91zM1740.19 773.91h6.91v3.50h-6.91zM1619.20 777.37h3.46v3.50h-3.46zM1639.94 777.37h3.46v3.50h-3.46zM1660.68 777.37h3.46v3.50h-3.46zM1674.51 777.37h3.46v3.50h-3.46zM1684.88 777.37h6.91v3.50h-6.91zM1695.25 777.37h3.46v3.50h-3.46zM1702.17 777.37h3.46v3.50h-3.46zM1709.08 777.37h10.37v3.50h-10.37zM1729.82 777.37h3.46v3.50h-3.46zM1740.19 777.37h6.91v3.50h-6.91zM1619.20 780.82h3.46v3.50h-3.46zM1626.11 780.82h10.37v3.50h-10.37zM1639.94 780.82h3.46v3.50h-3.46zM1646.86 780.82h3.46v3.50h-3.46zM1653.77 780.82h6.91v3.50h-6.91zM1667.60 780.82h3.46v3.50h-3.46zM1674.51 780.82h17.29v3.50h-17.29zM1698.71 780.82h3.46v3.50h-3.46zM1705.62 780.82h27.66v3.50h-27.66zM1736.74 780.82h3.46v3.50h-3.46zM1743.65 780.82h3.46v3.50h-3.46zM1619.20 784.28h3.46v3.50h-3.46zM1626.11 784.28h10.37v3.50h-10.37zM1639.94 784.28h3.46v3.50h-3.46zM1646.86 784.28h3.46v3.50h-3.46zM1660.68 784.28h6.91v3.50h-6.91zM1671.06 784.28h3.46v3.50h-3.46zM1677.97 784.28h6.91v3.50h-6.91zM1688.34 784.28h10.37v3.50h-10.37zM1702.17 784.28h3.46v3.50h-3.46zM1709.08 784.28h10.37v3.50h-10.37zM1722.91 784.28h3.46v3.50h-3.46zM1729.82 784.28h3.46v3.50h-3.46zM1736.74 784.28h3.46v3.50h-3.46zM1619.20 787.74h3.46v3.50h-3.46zM1626.11 787.74h10.37v3.50h-10.37zM1639.94 787.74h3.46v3.50h-3.46zM1646.86 787.74h3.46v3.50h-3.46zM1653.77 787.74h3.46v3.50h-3.46zM1660.68 787.74h10.37v3.50h-10.37zM1681.43 787.74h3.46v3.50h-3.46zM1688.34 787.74h3.46v3.50h-3.46zM1695.25 787.74h3.46v3.50h-3.46zM1712.54 787.74h3.46v3.50h-3.46zM1719.45 787.74h3.46v3.50h-3.46zM1726.37 787.74h3.46v3.50h-3.46zM1733.28 787.74h6.91v3.50h-6.91zM1743.65 787.74h3.46v3.50h-3.46zM1619.20 791.20h3.46v3.50h-3.46zM1639.94 791.20h3.46v3.50h-3.46zM1650.31 791.20h3.46v3.50h-3.46zM1660.68 791.20h3.46v3.50h-3.46zM1667.60 791.20h6.91v3.50h-6.91zM1677.97 791.20h6.91v3.50h-6.91zM1688.34 791.20h6.91v3.50h-6.91zM1702.17 791.20h3.46v3.50h-3.46zM1709.08 791.20h13.83v3.50h-13.83zM1726.37 791.20h6.91v3.50h-6.91zM1743.65 791.20h3.46v3.50h-3.46zM1619.20 794.65h24.20v3.50h-24.20zM1660.68 794.65h3.46v3.50h-3.46zM1667.60 794.65h3.46v3.50h-3.46zM1674.51 794.65h3.46v3.50h-3.46zM1691.80 794.65h3.46v3.50h-3.46zM1705.62 794.65h6.91v3.50h-6.91zM1726.37 794.65h20.74v3.50h-20.74z" fill="#15192d"/><rect x="1667" y="718" width="33" height="33" rx="6.5" fill="#15192d"/><text x="1670.7" y="738" font-size="9.6" font-weight="bold" fill="#fff" textLength="25" lengthAdjust="spacingAndGlyphs">BYB<tspan fill="#f7a600" dy="-2.6" font-weight="normal">I</tspan><tspan dy="2.6">T</tspan></text></g>
</svg></body></html>
